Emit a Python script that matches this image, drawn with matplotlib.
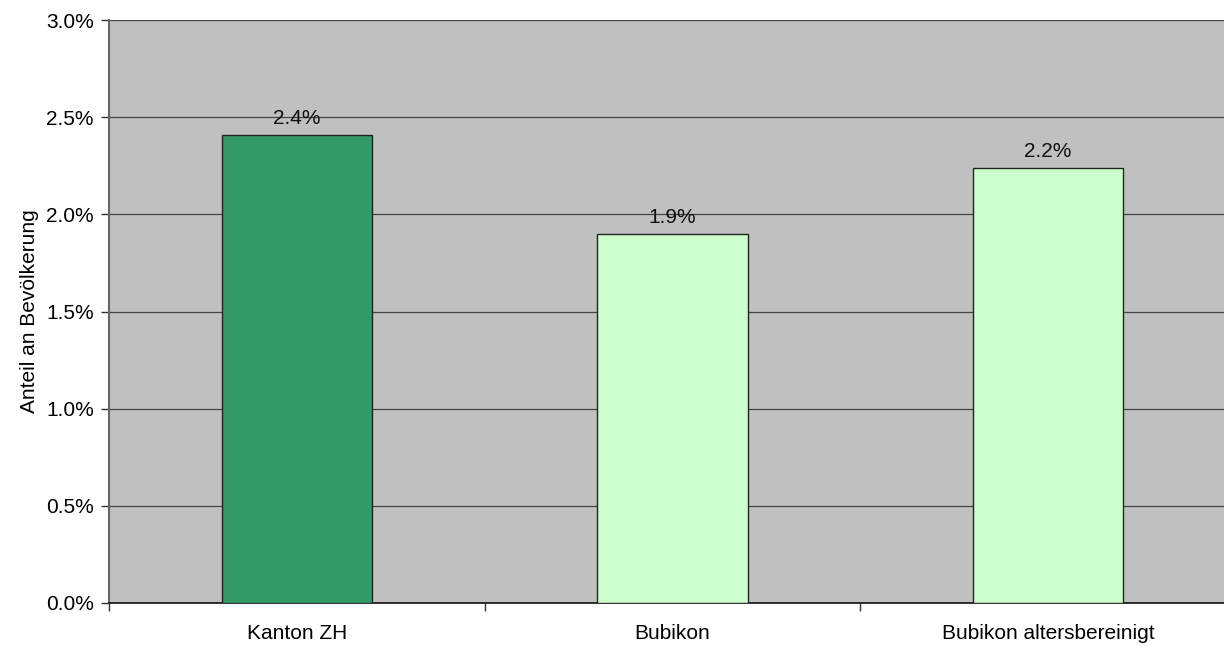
import matplotlib.pyplot as plt
from matplotlib.ticker import FuncFormatter, FixedLocator

categories = ["Kanton ZH", "Bubikon", "Bubikon altersbereinigt"]
shares = [2.41, 1.90, 2.24]  # percent of population
bar_colors = ["#339966", "#CCFFCC", "#CCFFCC"]

plt.rcParams["font.family"] = ["Liberation Sans", "DejaVu Sans"]
fs = 15

fig = plt.figure(figsize=(12.24, 6.46), dpi=100)
# plot area runs a little past the right edge of the figure
ax = fig.add_axes([109 / 1224, 43 / 646, 1127 / 1224, 583 / 646])
ax.set_facecolor("#C0C0C0")

x = list(range(len(categories)))
bars = ax.bar(x, shares, width=0.4, color=bar_colors, edgecolor="#222222",
              linewidth=1.0, zorder=3)

for rect, v in zip(bars, shares):
    ax.annotate(f"{v:.1f}%", (rect.get_x() + rect.get_width() / 2, v),
                xytext=(0, 5), textcoords="offset points",
                ha="center", va="bottom", fontsize=fs, color="#111111")

ax.set_xlim(-0.5, len(categories) - 0.5)
ax.set_ylim(0, 3.0)
ax.set_yticks([0, 0.5, 1.0, 1.5, 2.0, 2.5, 3.0])
ax.yaxis.set_major_formatter(FuncFormatter(lambda v, _: f"{v:.1f}%"))
ax.grid(axis="y", color="#444444", linewidth=0.9, zorder=1)

ax.set_xticks(x)
ax.set_xticklabels(categories)
ax.xaxis.set_minor_locator(FixedLocator([-0.5, 0.5, 1.5, 2.5]))
ax.tick_params(axis="x", which="major", length=0, pad=15, labelsize=fs)
ax.tick_params(axis="x", which="minor", length=6, width=1, color="#333333")
ax.tick_params(axis="y", length=6, width=1, color="#333333", labelsize=fs,
               pad=5)

ax.set_ylabel("Anteil an Bevölkerung", fontsize=fs, labelpad=5)

for side in ["top", "right"]:
    ax.spines[side].set_visible(False)
ax.spines["left"].set_color("#666666")
ax.spines["left"].set_linewidth(1.5)
ax.spines["bottom"].set_color("#111111")
ax.spines["bottom"].set_linewidth(1.2)

fig.savefig("out.png", dpi=100)
